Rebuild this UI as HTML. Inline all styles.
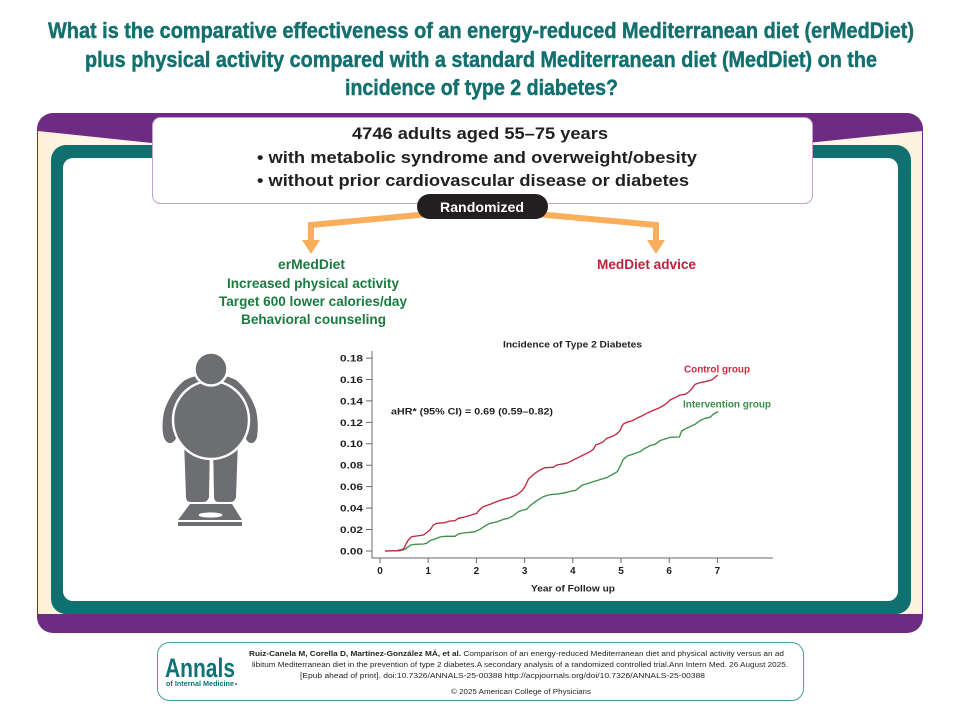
<!DOCTYPE html>
<html><head><meta charset="utf-8"><style>
html,body{margin:0;padding:0;background:#fff;}
svg{display:block;}
text{font-family:"Liberation Sans",Arial,sans-serif;}
</style></head><body>
<svg width="960" height="720" viewBox="0 0 960 720" xmlns="http://www.w3.org/2000/svg">
<rect width="960" height="720" fill="#fff"/>
<!-- Title -->
<g font-weight="bold" font-size="22" fill="#13706f" stroke="#13706f" stroke-width="0.45">
<text x="48" y="38" textLength="866" lengthAdjust="spacingAndGlyphs">What is the comparative effectiveness of an energy-reduced Mediterranean diet (erMedDiet)</text>
<text x="85" y="67" textLength="792" lengthAdjust="spacingAndGlyphs">plus physical activity compared with a standard Mediterranean diet (MedDiet) on the</text>
<text x="345" y="95" textLength="273" lengthAdjust="spacingAndGlyphs">incidence of type 2 diabetes?</text>
</g>
<!-- Outer purple frame -->
<rect x="37" y="113" width="886" height="520" rx="16" fill="#6f2b84"/>
<defs>
<linearGradient id="cr" x1="0" x2="1" y1="0" y2="0">
<stop offset="0" stop-color="#fdefd5"/><stop offset="0.04" stop-color="#fef6e6"/><stop offset="0.96" stop-color="#fef6e6"/><stop offset="1" stop-color="#fdf1db"/>
</linearGradient>
</defs>
<polygon points="38,131 200,148 760,148 922,131 922,614 38,614" fill="url(#cr)"/>
<!-- Teal frame -->
<rect x="51" y="145" width="860" height="469" rx="15" fill="#0f706f"/>
<rect x="63" y="158" width="835" height="443" rx="10" fill="#fff"/>
<!-- Top box -->
<rect x="152.5" y="117.5" width="660" height="86" rx="8" fill="#fff" stroke="#c6a0cf" stroke-width="1"/>
<g font-weight="bold" font-size="17" fill="#231f20">
<text x="352" y="139" textLength="256" lengthAdjust="spacingAndGlyphs">4746 adults aged 55–75 years</text>
<text x="257" y="163" textLength="440" lengthAdjust="spacingAndGlyphs">• with metabolic syndrome and overweight/obesity</text>
<text x="257" y="186" textLength="432" lengthAdjust="spacingAndGlyphs">• without prior cardiovascular disease or diabetes</text>
</g>
<!-- Arrows -->
<g stroke="#f9ae5c" stroke-width="6" fill="none" stroke-linejoin="miter">
<polyline points="440,213 311,225 311,242"/>
<polyline points="525,213 656,225 656,242"/>
</g>
<polygon points="302,240 320,240 311,254" fill="#f9ae5c"/>
<polygon points="647,240 665,240 656,254" fill="#f9ae5c"/>
<!-- Randomized pill -->
<rect x="417" y="194" width="131" height="25" rx="12.5" fill="#231f20"/>
<text x="440" y="212" font-size="14" font-weight="bold" fill="#fff" textLength="84" lengthAdjust="spacingAndGlyphs">Randomized</text>
<!-- Arms text -->
<g font-weight="bold" font-size="13.5" fill="#1b7a3f">
<text x="278" y="269" textLength="67" lengthAdjust="spacingAndGlyphs">erMedDiet</text>
<text x="227" y="288" textLength="172" lengthAdjust="spacingAndGlyphs">Increased physical activity</text>
<text x="219" y="306" textLength="188" lengthAdjust="spacingAndGlyphs">Target 600 lower calories/day</text>
<text x="241" y="324" textLength="145" lengthAdjust="spacingAndGlyphs">Behavioral counseling</text>
</g>
<text x="597" y="269" font-weight="bold" font-size="13.5" fill="#c1203c" textLength="99" lengthAdjust="spacingAndGlyphs">MedDiet advice</text>
<!-- Man icon -->
<g fill="#6d6e71">
<path d="M184,440 L210,440 L209,497 Q208,502 203,502 L191,502 Q186,502 186,497 Z"/>
<path d="M213,440 L238,440 L236,497 Q235,502 230,502 L219,502 Q214,502 214,497 Z"/>
<path d="M185,380 Q170,392 164,412 Q161,428 164,438 Q167,444 171,443 Q177,441 177,432 L245,432 Q245,441 250,443 Q255,444 257,437 Q259,424 256,410 Q250,392 236,380 Q211,368 185,380 Z"/>
<ellipse cx="211" cy="420" rx="38" ry="39" stroke="#fff" stroke-width="2.5"/>
<circle cx="211" cy="369" r="16.5" stroke="#fff" stroke-width="2.5"/>
<polygon points="190,504 232,504 242,520 178,520"/>
<rect x="178" y="522" width="64" height="4"/>
</g>
<ellipse cx="210.5" cy="515" rx="12" ry="2.6" fill="#fff"/>
<!-- Chart -->
<text x="503" y="347.5" font-size="9.5" font-weight="bold" fill="#231f20" textLength="139" lengthAdjust="spacingAndGlyphs">Incidence of Type 2 Diabetes</text>
<g stroke="#6a6a6a" stroke-width="1" fill="none">
<line x1="372" y1="351" x2="372" y2="558.5"/>
<line x1="371.5" y1="558" x2="773" y2="558"/>
<path d="M366,358.1H372M366,379.5H372M366,400.9H372M366,422.4H372M366,443.8H372M366,465.2H372M366,486.6H372M366,508.1H372M366,529.5H372M366,551H372"/>
<path d="M380,558V563M428.2,558V563M476.4,558V563M524.6,558V563M572.8,558V563M621,558V563M669.2,558V563M717.4,558V563"/>
</g>
<g font-size="9.5" font-weight="bold" fill="#231f20">
<text x="340" y="361.5" textLength="23" lengthAdjust="spacingAndGlyphs">0.18</text>
<text x="340" y="382.9" textLength="23" lengthAdjust="spacingAndGlyphs">0.16</text>
<text x="340" y="404.3" textLength="23" lengthAdjust="spacingAndGlyphs">0.14</text>
<text x="340" y="425.8" textLength="23" lengthAdjust="spacingAndGlyphs">0.12</text>
<text x="340" y="447.2" textLength="23" lengthAdjust="spacingAndGlyphs">0.10</text>
<text x="340" y="468.6" textLength="23" lengthAdjust="spacingAndGlyphs">0.08</text>
<text x="340" y="490" textLength="23" lengthAdjust="spacingAndGlyphs">0.06</text>
<text x="340" y="511.5" textLength="23" lengthAdjust="spacingAndGlyphs">0.04</text>
<text x="340" y="532.9" textLength="23" lengthAdjust="spacingAndGlyphs">0.02</text>
<text x="340" y="554.4" textLength="23" lengthAdjust="spacingAndGlyphs">0.00</text>
</g>
<g font-size="10" font-weight="bold" fill="#231f20" text-anchor="middle">
<text x="380" y="574">0</text>
<text x="428.2" y="574">1</text>
<text x="476.4" y="574">2</text>
<text x="524.6" y="574">3</text>
<text x="572.8" y="574">4</text>
<text x="621" y="574">5</text>
<text x="669.2" y="574">6</text>
<text x="717.4" y="574">7</text>
</g>
<text x="531" y="591.5" font-size="9.5" font-weight="bold" fill="#231f20" textLength="84" lengthAdjust="spacingAndGlyphs">Year of Follow up</text>
<text x="391" y="414.5" font-size="9.5" font-weight="bold" fill="#231f20" textLength="162" lengthAdjust="spacingAndGlyphs">aHR* (95% CI) = 0.69 (0.59–0.82)</text>
<text x="684" y="372.5" font-size="10" font-weight="bold" fill="#c5303f" textLength="66" lengthAdjust="spacingAndGlyphs">Control group</text>
<text x="683" y="407.5" font-size="10" font-weight="bold" fill="#3b8e4a" textLength="88" lengthAdjust="spacingAndGlyphs">Intervention group</text>
<g transform="translate(330,330) scale(0.33333)" fill="none" stroke-width="4" stroke-linejoin="round">
<polyline stroke="#3d8f48" points="165,663 210,662 225,658 235,650 242,645 255,643 280,642 290,640 300,632 315,627 330,621 345,619 375,619 385,612 400,609 420,607 435,605 450,598 465,588 480,580 500,576 520,568 535,565 550,557 565,545 580,540 590,538 600,527 620,512 640,500 660,494 690,491 710,487 725,483 735,482 745,475 755,466 775,460 790,455 810,449 830,443 850,432 862,425 872,405 880,388 892,378 910,372 930,365 945,355 960,347 975,343 990,332 1005,327 1020,322 1048,321 1055,303 1065,297 1080,290 1095,283 1110,272 1125,265 1140,262 1152,251 1165,245"/>
<polyline stroke="#c02840" points="165,663 200,662 215,659 222,655 228,642 235,630 245,620 260,618 280,615 290,608 300,600 310,585 320,580 345,578 360,573 375,572 385,565 400,562 420,556 440,550 450,538 460,530 480,523 500,515 520,508 540,503 560,495 575,483 585,470 595,448 605,438 615,430 630,420 645,413 670,412 680,405 710,400 720,395 740,385 760,375 780,365 790,358 797,345 810,340 820,335 830,325 845,320 860,312 870,302 875,290 880,282 895,275 905,273 920,265 935,258 950,250 965,243 980,237 995,230 1010,220 1020,210 1035,203 1050,195 1065,193 1075,187 1085,177 1095,163 1110,158 1125,155 1145,150 1160,138 1163,135"/>
</g>
<!-- Footer -->
<rect x="157.5" y="642.5" width="646" height="58" rx="12" fill="#fff" stroke="#4f9c9b" stroke-width="1"/>
<text x="165" y="677" font-size="27" font-weight="bold" fill="#0e7377" textLength="70" lengthAdjust="spacingAndGlyphs">Annals</text>
<text x="166" y="686" font-size="7.5" font-weight="bold" fill="#0e7377" textLength="68" lengthAdjust="spacingAndGlyphs">of Internal Medicine</text>
<circle cx="236" cy="684" r="1" fill="#0e7377"/>
<g font-size="7.6" fill="#231f20">
<text x="249" y="656" textLength="535" lengthAdjust="spacingAndGlyphs"><tspan font-weight="bold">Ruiz-Canela M, Corella D, Martínez-González MÁ, et al.</tspan> Comparison of an energy-reduced Mediterranean diet and physical activity versus an ad</text>
<text x="252" y="667" textLength="536" lengthAdjust="spacingAndGlyphs">libitum Mediterranean diet in the prevention of type 2 diabetes.A secondary analysis of a randomized controlled trial.Ann Intern Med. 26 August 2025.</text>
<text x="300" y="678" textLength="405" lengthAdjust="spacingAndGlyphs">[Epub ahead of print]. doi:10.7326/ANNALS-25-00388  http://acpjournals.org/doi/10.7326/ANNALS-25-00388</text>
<text x="451" y="694" font-size="7" textLength="140" lengthAdjust="spacingAndGlyphs">© 2025 American College of Physicians</text>
</g>
</svg>
</body></html>
